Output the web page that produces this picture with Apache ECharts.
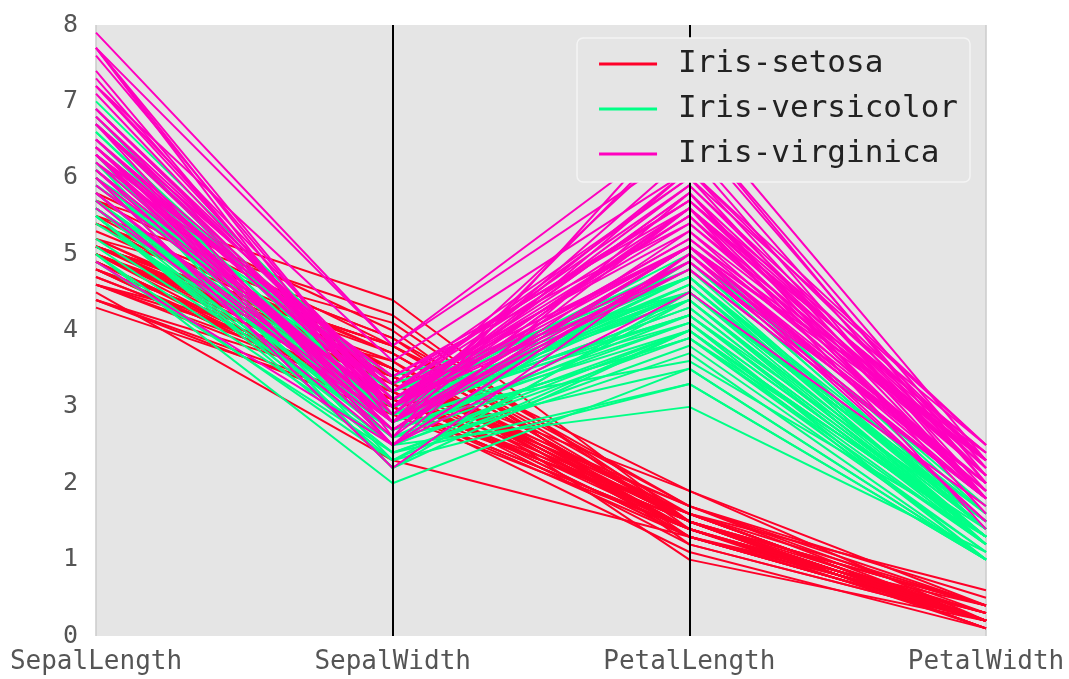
<!DOCTYPE html>
<html><head><meta charset="utf-8">
<script src="https://cdn.jsdelivr.net/npm/echarts@6/dist/echarts.min.js"></script>
<style>html,body{margin:0;padding:0;background:#fff}#c{width:1069px;height:679px}</style>
</head><body><div id="c"></div>
<script>
var categories = ['SepalLength','SepalWidth','PetalLength','PetalWidth'];
var classNames = ['Iris-setosa','Iris-versicolor','Iris-virginica'];
var classColors = ['#ff0029','#00ff86','#ff00bf'];
var yTicks = [0,1,2,3,4,5,6,7,8];

var setosa = [
[5.1,3.5,1.4,0.2],[4.9,3.0,1.4,0.2],[4.7,3.2,1.3,0.2],[4.6,3.1,1.5,0.2],[5.0,3.6,1.4,0.2],
[5.4,3.9,1.7,0.4],[4.6,3.4,1.4,0.3],[5.0,3.4,1.5,0.2],[4.4,2.9,1.4,0.2],[4.9,3.1,1.5,0.1],
[5.4,3.7,1.5,0.2],[4.8,3.4,1.6,0.2],[4.8,3.0,1.4,0.1],[4.3,3.0,1.1,0.1],[5.8,4.0,1.2,0.2],
[5.7,4.4,1.5,0.4],[5.4,3.9,1.3,0.4],[5.1,3.5,1.4,0.3],[5.7,3.8,1.7,0.3],[5.1,3.8,1.5,0.3],
[5.4,3.4,1.7,0.2],[5.1,3.7,1.5,0.4],[4.6,3.6,1.0,0.2],[5.1,3.3,1.7,0.5],[4.8,3.4,1.9,0.2],
[5.0,3.0,1.6,0.2],[5.0,3.4,1.6,0.4],[5.2,3.5,1.5,0.2],[5.2,3.4,1.4,0.2],[4.7,3.2,1.6,0.2],
[4.8,3.1,1.6,0.2],[5.4,3.4,1.5,0.4],[5.2,4.1,1.5,0.1],[5.5,4.2,1.4,0.2],[4.9,3.1,1.5,0.1],
[5.0,3.2,1.2,0.2],[5.5,3.5,1.3,0.2],[4.9,3.1,1.5,0.1],[4.4,3.0,1.3,0.2],[5.1,3.4,1.5,0.2],
[5.0,3.5,1.3,0.3],[4.5,2.3,1.3,0.3],[4.4,3.2,1.3,0.2],[5.0,3.5,1.6,0.6],[5.1,3.8,1.9,0.4],
[4.8,3.0,1.4,0.3],[5.1,3.8,1.6,0.2],[4.6,3.2,1.4,0.2],[5.3,3.7,1.5,0.2],[5.0,3.3,1.4,0.2]
];
var versicolor = [
[7.0,3.2,4.7,1.4],[6.4,3.2,4.5,1.5],[6.9,3.1,4.9,1.5],[5.5,2.3,4.0,1.3],[6.5,2.8,4.6,1.5],
[5.7,2.8,4.5,1.3],[6.3,3.3,4.7,1.6],[4.9,2.4,3.3,1.0],[6.6,2.9,4.6,1.3],[5.2,2.7,3.9,1.4],
[5.0,2.0,3.5,1.0],[5.9,3.0,4.2,1.5],[6.0,2.2,4.0,1.0],[6.1,2.9,4.7,1.4],[5.6,2.9,3.6,1.3],
[6.7,3.1,4.4,1.4],[5.6,3.0,4.5,1.5],[5.8,2.7,4.1,1.0],[6.2,2.2,4.5,1.5],[5.6,2.5,3.9,1.1],
[5.9,3.2,4.8,1.8],[6.1,2.8,4.0,1.3],[6.3,2.5,4.9,1.5],[6.1,2.8,4.7,1.2],[6.4,2.9,4.3,1.3],
[6.6,3.0,4.4,1.4],[6.8,2.8,4.8,1.4],[6.7,3.0,5.0,1.7],[6.0,2.9,4.5,1.5],[5.7,2.6,3.5,1.0],
[5.5,2.4,3.8,1.1],[5.5,2.4,3.7,1.0],[5.8,2.7,3.9,1.2],[6.0,2.7,5.1,1.6],[5.4,3.0,4.5,1.5],
[6.0,3.4,4.5,1.6],[6.7,3.1,4.7,1.5],[6.3,2.3,4.4,1.3],[5.6,3.0,4.1,1.3],[5.5,2.5,4.0,1.3],
[5.5,2.6,4.4,1.2],[6.1,3.0,4.6,1.4],[5.8,2.6,4.0,1.2],[5.0,2.3,3.3,1.0],[5.6,2.7,4.2,1.3],
[5.7,3.0,4.2,1.2],[5.7,2.9,4.2,1.3],[6.2,2.9,4.3,1.3],[5.1,2.5,3.0,1.1],[5.7,2.8,4.1,1.3]
];
var virginica = [
[6.3,3.3,6.0,2.5],[5.8,2.7,5.1,1.9],[7.1,3.0,5.9,2.1],[6.3,2.9,5.6,1.8],[6.5,3.0,5.8,2.2],
[7.6,3.0,6.6,2.1],[4.9,2.5,4.5,1.7],[7.3,2.9,6.3,1.8],[6.7,2.5,5.8,1.8],[7.2,3.6,6.1,2.5],
[6.5,3.2,5.1,2.0],[6.4,2.7,5.3,1.9],[6.8,3.0,5.5,2.1],[5.7,2.5,5.0,2.0],[5.8,2.8,5.1,2.4],
[6.4,3.2,5.3,2.3],[6.5,3.0,5.5,1.8],[7.7,3.8,6.7,2.2],[7.7,2.6,6.9,2.3],[6.0,2.2,5.0,1.5],
[6.9,3.2,5.7,2.3],[5.6,2.8,4.9,2.0],[7.7,2.8,6.7,2.0],[6.3,2.7,4.9,1.8],[6.7,3.3,5.7,2.1],
[7.2,3.2,6.0,1.8],[6.2,2.8,4.8,1.8],[6.1,3.0,4.9,1.8],[6.4,2.8,5.6,2.1],[7.2,3.0,5.8,1.6],
[7.4,2.8,6.1,1.9],[7.9,3.8,6.4,2.0],[6.4,2.8,5.6,2.2],[6.3,2.8,5.1,1.5],[6.1,2.6,5.6,1.4],
[7.7,3.0,6.1,2.3],[6.3,3.4,5.6,2.4],[6.4,3.1,5.5,1.8],[6.0,3.0,4.8,1.8],[6.9,3.1,5.4,2.1],
[6.7,3.1,5.6,2.4],[6.9,3.1,5.1,2.3],[5.8,2.7,5.1,1.9],[6.8,3.2,5.9,2.3],[6.7,3.3,5.7,2.5],
[6.7,3.0,5.2,2.3],[6.3,2.5,5.0,1.9],[6.5,3.0,5.2,2.0],[6.2,3.4,5.4,2.3],[5.9,3.0,5.1,1.8]
];

var groups = [setosa, versicolor, virginica];
var series = [];
groups.forEach(function(rows, gi){
  rows.forEach(function(r){
    series.push({
      type:'line', name:classNames[gi], data:r, symbol:'none', showSymbol:false,
      lineStyle:{color:classColors[gi], width:2}, itemStyle:{color:classColors[gi]},
      silent:true, animation:false, z:2
    });
  });
});
series.push({
  type:'line', name:'axes', data:[], symbol:'none', silent:true, animation:false, z:5,
  markLine:{symbol:'none', silent:true, animation:false, label:{show:false},
    lineStyle:{color:'#000', width:2, type:'solid'},
    data:[{xAxis:1},{xAxis:2}]}
});

var chart = echarts.init(document.getElementById('c'), null, {renderer:'canvas'});
chart.setOption({
  backgroundColor:'#ffffff',
  animation:false,
  grid:{left:96, right:83, top:25, bottom:43, show:true, backgroundColor:'#e5e5e5', borderWidth:0},
  xAxis:{type:'category', data:categories, boundaryGap:false,
    axisLine:{show:false}, axisTick:{show:false},
    axisLabel:{color:'#555', fontFamily:'DejaVu Sans Mono', fontSize:26, margin:13, interval:0},
    splitLine:{show:true, lineStyle:{color:'#cbcbcb', width:1.5}}},
  yAxis:{type:'value', min:yTicks[0], max:yTicks[yTicks.length-1], interval:1,
    axisLine:{show:false}, axisTick:{show:false}, splitLine:{show:false},
    axisLabel:{color:'#555', fontFamily:'DejaVu Sans Mono', fontSize:25, margin:18}},
  legend:{
    data:classNames, orient:'vertical', right:99, top:38,
    backgroundColor:'#e5e5e5', borderColor:'#f4f4f4', borderWidth:1.5, borderRadius:6,
    padding:[8,12,10,22], itemGap:9, itemWidth:58, itemHeight:3, icon:'rect',
    textStyle:{color:'#222', fontFamily:'DejaVu Sans Mono', fontSize:31, lineHeight:36, padding:[0,0,0,16]},
    selectedMode:false, z:10
  },
  series:series
});
</script></body></html>
